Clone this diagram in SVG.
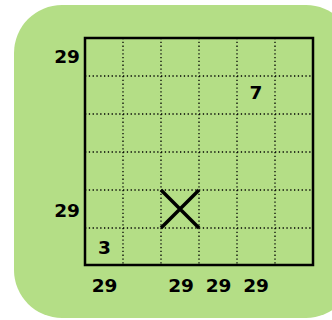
<svg xmlns="http://www.w3.org/2000/svg" width="332" height="320" viewBox="0 0 332 320">
<style>
.lbl{font-family:"DejaVu Sans",Verdana,sans-serif;font-weight:bold;font-size:18.5px;fill:#000}
.dot{stroke:#000;stroke-width:1.3;stroke-dasharray:1.3 2.5;fill:none}
</style>
<rect x="14" y="5" width="340" height="313" rx="48" ry="48" fill="#b4de86"/>
<g id="grid">
<path class="dot" d="M123 38V265M161 38V265M199 38V265M237 38V265M275 38V265M85 76H313M85 114H313M85 152H313M85 190H313M85 228H313"/>
<rect x="85" y="38" width="228" height="227" fill="none" stroke="#000" stroke-width="2.5"/>
</g>
<g id="cross">
<path d="M161 190L199 228M199 190L161 228" stroke="#000" stroke-width="3.5" fill="none"/>
</g>
<g id="labels">
<text class="lbl" x="80" y="63" text-anchor="end">29</text>
<text class="lbl" x="80" y="217" text-anchor="end">29</text>
<text class="lbl" x="104.5" y="254" text-anchor="middle">3</text>
<text class="lbl" x="256" y="99" text-anchor="middle">7</text>
<text class="lbl" x="104.5" y="292" text-anchor="middle">29</text>
<text class="lbl" x="181" y="292" text-anchor="middle">29</text>
<text class="lbl" x="218.5" y="292" text-anchor="middle">29</text>
<text class="lbl" x="256" y="292" text-anchor="middle">29</text>
</g>
</svg>
